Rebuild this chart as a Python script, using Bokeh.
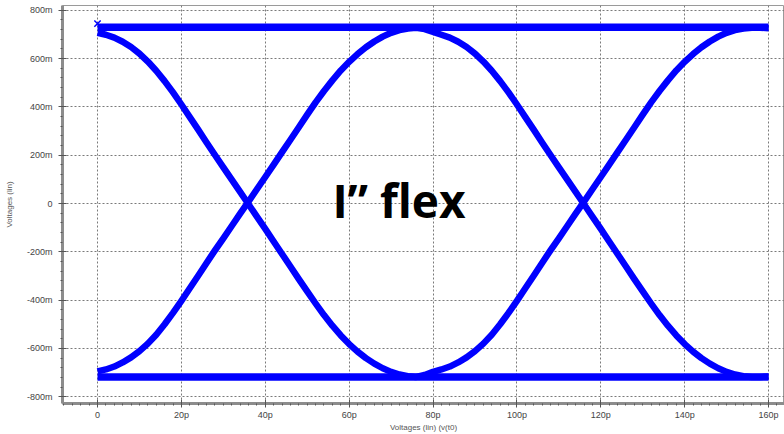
from bokeh.plotting import figure
from bokeh.models import FixedTicker, Label, Range1d
from bokeh.embed import file_html
from bokeh.resources import INLINE

# time samples (ps)
t_ps = list(range(0, 161, 2))

# trace that starts high, falls, then rises (mV), one value per t_ps sample
trace_a = [707, 699, 687, 670, 648, 621, 588, 550, 507, 460, 410, 358, 306, 253, 201, 150, 99, 48, -3, -54,
           -105, -157, -209, -261, -313, -364, -414, -462, -506, -546, -582, -613, -640, -663, -682, -697,
           -708, -715, -718, -710, -697,
           -687, -675, -658, -637, -611, -580, -543, -500, -453, -403, -351, -299, -246, -194, -144, -93, -42,
           8, 59, 110, 161, 213, 264, 316, 368, 419, 466, 510, 551, 587, 619, 647, 671, 691, 707, 718, 725, 728,
           728, 726]

# trace that starts low, rises, then falls (mV)
trace_b = [-695, -687, -675, -658, -637, -611, -580, -543, -500, -453, -403, -351, -299, -246, -194, -144, -93,
           -42, 8, 59, 110, 161, 213, 264, 316, 368, 419, 466, 510, 551, 587, 619, 647, 671, 691, 707, 718, 725,
           728, 722, 711,
           699, 687, 670, 648, 621, 588, 550, 507, 460, 410, 358, 306, 253, 201, 150, 99, 48, -3, -54, -105,
           -157, -209, -261, -313, -364, -414, -462, -506, -546, -582, -613, -640, -663, -682, -697, -708, -715,
           -718, -718, -716]

# flat rails (mV)
rail_t = [0, 160]
rail_high = [730, 730]
rail_low = [-718, -718]

# cursor marker
marker_t = [0]
marker_v = [745]

# ticks
x_ticks = [0, 20, 40, 60, 80, 100, 120, 140, 160]
x_tick_labels = ["0", "20p", "40p", "60p", "80p", "100p", "120p", "140p", "160p"]
y_ticks = [-800, -600, -400, -200, 0, 200, 400, 600, 800]
y_tick_labels = ["-800m", "-600m", "-400m", "-200m", "0", "200m", "400m", "600m", "800m"]

BLUE = "#0000ff"

p = figure(width=784, height=434, output_backend="svg", toolbar_location=None,
           x_range=Range1d(-8.35, 163.8), y_range=Range1d(-828, 820),
           min_border_left=62, min_border_right=0, min_border_top=5, min_border_bottom=31,
           background_fill_color="white", border_fill_color="white")

p.outline_line_color = "#9a9a9a"
p.outline_line_width = 1

# rails
p.line(rail_t, rail_high, line_color=BLUE, line_width=7.5)
p.line(rail_t, rail_low, line_color=BLUE, line_width=7.5)
# transitions
p.line(t_ps, trace_a, line_color=BLUE, line_width=6.5, line_join="round")
p.line(t_ps, trace_b, line_color=BLUE, line_width=6.5, line_join="round")
p.scatter(marker_t, marker_v, marker="x", size=9, line_color=BLUE, line_width=1.5)

# axes
p.xaxis.ticker = FixedTicker(ticks=x_ticks, minor_ticks=[v / 1.0 for v in range(-8, 164, 2)])
p.yaxis.ticker = FixedTicker(ticks=y_ticks, minor_ticks=[v / 1.0 for v in range(-800, 801, 40)])
p.xaxis.major_label_overrides = {v: s for v, s in zip(x_ticks, x_tick_labels)}
p.yaxis.major_label_overrides = {v: s for v, s in zip(y_ticks, y_tick_labels)}

for ax in (p.xaxis[0], p.yaxis[0]):
    ax.axis_line_color = "#8c8c8c"
    ax.axis_line_width = 3
    ax.major_tick_in = 4
    ax.major_tick_out = 4
    ax.major_tick_line_color = "#555555"
    ax.minor_tick_in = 0
    ax.minor_tick_out = 2
    ax.minor_tick_line_color = "#555555"
    ax.major_label_text_font = "Liberation Sans"
    ax.major_label_text_font_size = "9px"
    ax.major_label_text_color = "#444444"
    ax.axis_label_text_font = "Liberation Sans"
    ax.axis_label_text_font_size = "8px"
    ax.axis_label_text_font_style = "normal"
    ax.axis_label_text_color = "#555555"

p.xaxis.axis_label = "Voltages (lin) (v(t0)"
p.yaxis.axis_label = "Voltages (lin)"
p.xaxis.major_label_standoff = 2
p.xaxis.axis_label_standoff = 0
p.yaxis.major_label_standoff = 6
p.yaxis.axis_label_standoff = 10

# grid
for g in (p.xgrid[0], p.ygrid[0]):
    g.grid_line_color = "#7a7a7a"
    g.grid_line_dash = "2 2"
    g.grid_line_width = 1

# text inside the plot
p.add_layout(Label(x=56, y=16, text="I\u201d flex", text_font="Open Sans",
                   text_font_style="bold", text_font_size="46px", text_color="black",
                   text_align="left", text_baseline="middle"))

open("out.html", "w").write(file_html(p, INLINE))
